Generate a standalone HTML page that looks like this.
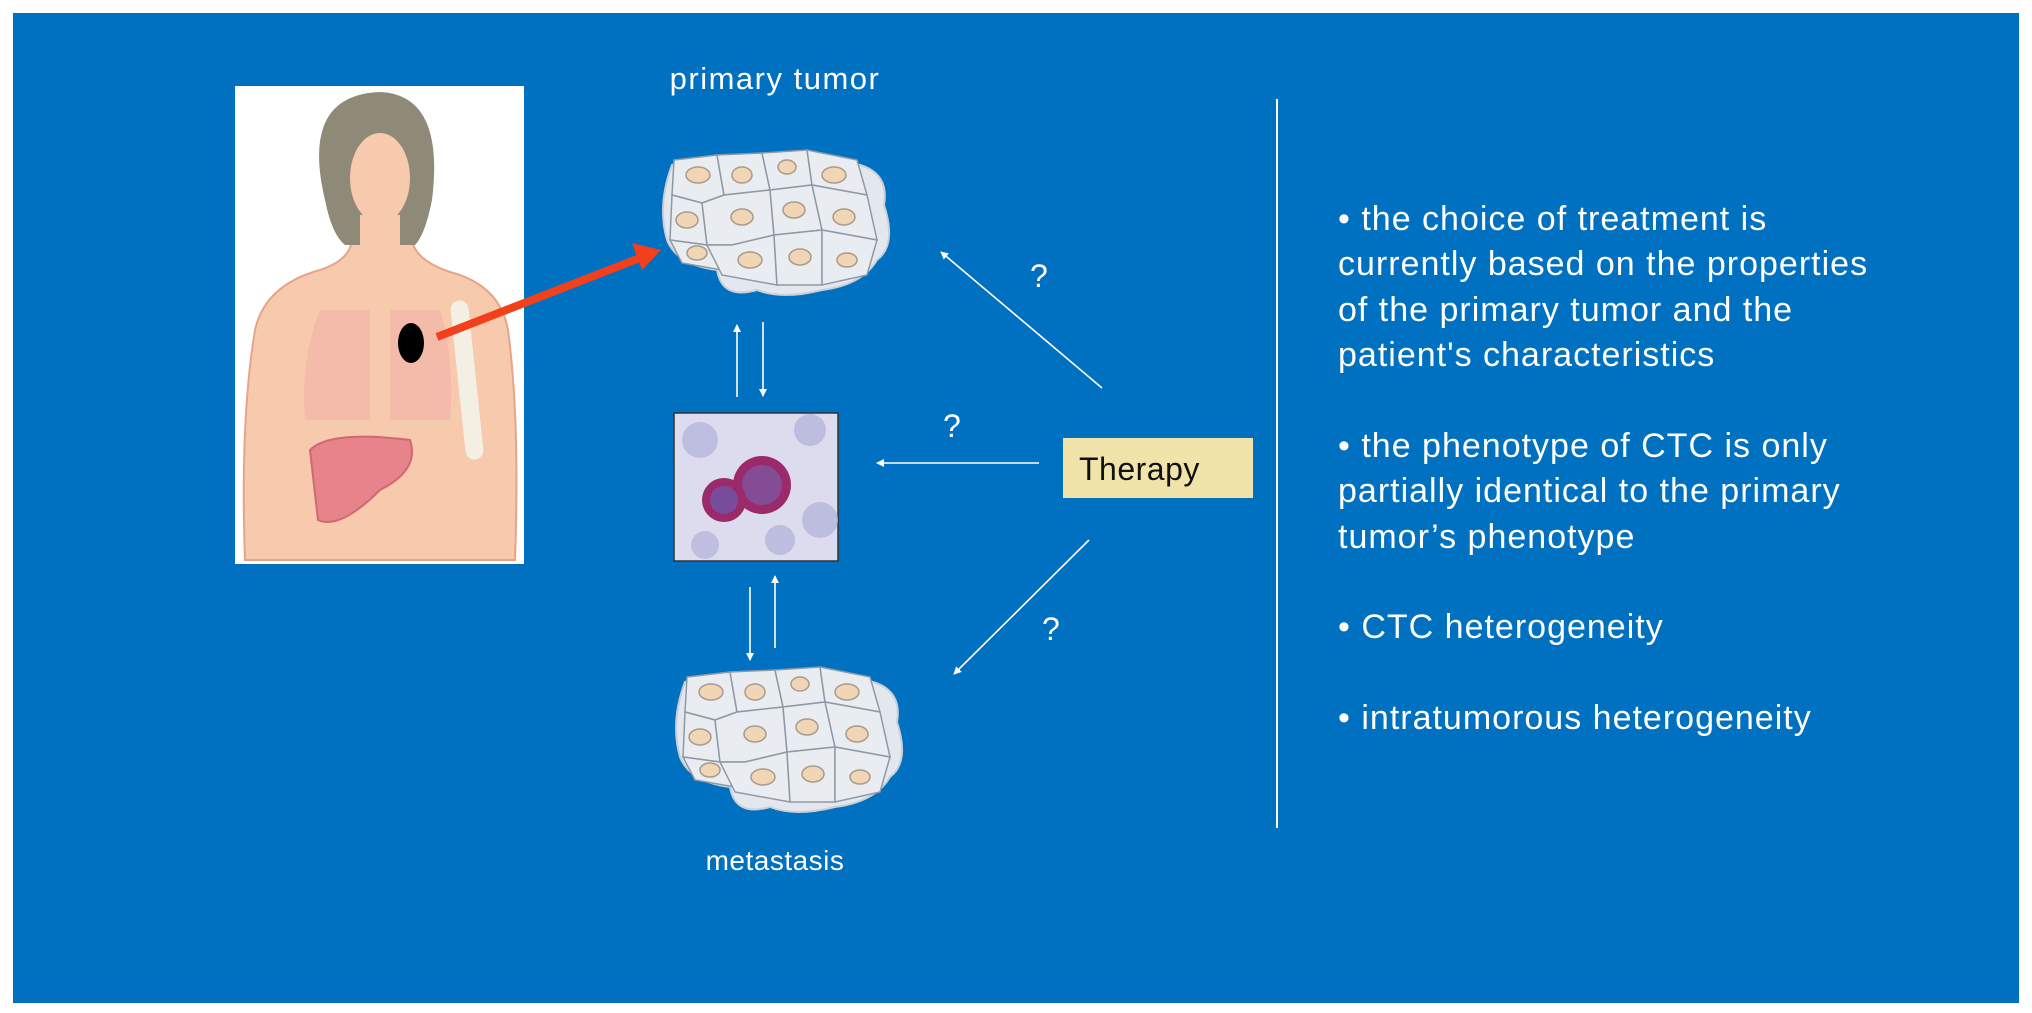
<!DOCTYPE html>
<html><head><meta charset="utf-8"><style>
body{margin:0;background:#fff;width:2032px;height:1013px;overflow:hidden;font-family:"Liberation Sans",sans-serif}
svg{position:absolute;left:0;top:0}
</style></head><body>
<svg width="2032" height="1013" viewBox="0 0 2032 1013" xmlns="http://www.w3.org/2000/svg">
<defs>
<g id="cl">
 <path d="M10,20 Q60,5 100,12 Q140,0 190,18 Q228,25 222,60 Q235,100 215,115 Q200,140 160,145 Q120,155 95,145 Q60,155 55,125 Q15,120 5,95 Q-5,60 10,20Z" fill="#e4e8ee" stroke="#c8cfd8" stroke-width="2"/>
 <g fill="#e9ecf1" stroke="#8f99a6" stroke-width="1.5">
  <path d="M12,15 L55,10 L62,50 L40,58 L10,50Z"/>
  <path d="M55,10 L100,8 L108,45 L62,50Z"/>
  <path d="M100,8 L145,5 L150,40 L108,45Z"/>
  <path d="M145,5 L195,15 L205,50 L150,40Z"/>
  <path d="M10,50 L40,58 L45,100 L8,95Z"/>
  <path d="M40,58 L62,50 L108,45 L112,90 L70,100 L45,100Z"/>
  <path d="M108,45 L150,40 L160,85 L112,90Z"/>
  <path d="M150,40 L205,50 L215,95 L160,85Z"/>
  <path d="M8,95 L45,100 L60,125 L20,118Z"/>
  <path d="M45,100 L70,100 L112,90 L115,140 L60,130Z"/>
  <path d="M112,90 L160,85 L160,140 L115,140Z"/>
  <path d="M160,85 L215,95 L205,130 L160,140Z"/>
 </g>
 <g fill="#f0d6b4" stroke="#a99a8c" stroke-width="1.5">
  <ellipse cx="36" cy="30" rx="12" ry="8"/><ellipse cx="80" cy="30" rx="10" ry="8"/>
  <ellipse cx="125" cy="22" rx="9" ry="7"/><ellipse cx="172" cy="30" rx="12" ry="8"/>
  <ellipse cx="25" cy="75" rx="11" ry="8"/><ellipse cx="80" cy="72" rx="11" ry="8"/>
  <ellipse cx="132" cy="65" rx="11" ry="8"/><ellipse cx="182" cy="72" rx="11" ry="8"/>
  <ellipse cx="35" cy="108" rx="10" ry="7"/><ellipse cx="88" cy="115" rx="12" ry="8"/>
  <ellipse cx="138" cy="112" rx="11" ry="8"/><ellipse cx="185" cy="115" rx="10" ry="7"/>
 </g>
</g>
<marker id="ah" markerWidth="8" markerHeight="8" refX="7" refY="4" orient="auto" markerUnits="userSpaceOnUse"><path d="M0,0 L8,4 L0,8Z" fill="#fff"/></marker>
</defs>
<rect x="13" y="13" width="2006" height="990" fill="#0070c0"/>
<!-- woman -->
<rect x="235" y="86" width="289" height="478" fill="#fff"/>
<path d="M245,560 Q240,420 255,330 Q265,285 320,270 Q350,260 352,240 L412,240 Q415,260 450,272 Q500,285 508,330 Q520,420 515,560Z" fill="#f7c9ad" stroke="#e5a58a" stroke-width="2"/>
<path d="M325,200 Q300,95 380,92 Q445,95 432,200 Q425,235 415,245 L345,245 Q332,235 325,200Z" fill="#8f8a78"/>
<ellipse cx="380" cy="178" rx="30" ry="45" fill="#f7c9ad"/>
<rect x="360" y="215" width="40" height="40" fill="#f7c9ad"/>
<path d="M320,310 Q300,360 305,420 L370,420 L370,310Z" fill="#f2b5a8" opacity="0.7"/>
<path d="M390,310 L390,420 L450,420 Q455,360 440,310Z" fill="#f2b5a8" opacity="0.7"/>
<path d="M310,450 Q330,430 410,440 Q420,470 380,490 Q340,530 318,520Z" fill="#e7838a" stroke="#d06a72" stroke-width="2"/>
<rect x="458" y="300" width="18" height="160" rx="9" fill="#f3efe2" transform="rotate(-6 467 380)"/>
<ellipse cx="411" cy="343" rx="13" ry="20" fill="#000"/>
<line x1="437" y1="337" x2="645" y2="256" stroke="#f2401c" stroke-width="8"/>
<path d="M661,250 L632,243 L642,270Z" fill="#f2401c"/>
<!-- texts -->
<text x="775" y="89" fill="#fff" font-size="31" letter-spacing="1.5" text-anchor="middle">primary tumor</text>
<text x="775" y="870" fill="#fff" font-size="28" letter-spacing="0.5" text-anchor="middle">metastasis</text>
<use href="#cl" transform="translate(662,145)"/>
<use href="#cl" transform="translate(675,662)"/>
<!-- CTC image -->
<rect x="674" y="413" width="164" height="148" fill="#dcdcee" stroke="#333" stroke-width="1.5"/>
<g fill="#b5b6dc" opacity="0.8"><circle cx="700" cy="440" r="18"/><circle cx="810" cy="430" r="16"/><circle cx="820" cy="520" r="18"/><circle cx="705" cy="545" r="14"/><circle cx="780" cy="540" r="15"/></g>
<circle cx="762" cy="485" r="29" fill="#9b2a6a"/><circle cx="762" cy="485" r="20" fill="#7b5ba8" opacity="0.7"/>
<circle cx="724" cy="500" r="22" fill="#9b2a6a"/><circle cx="724" cy="500" r="14" fill="#6b5ab0" opacity="0.7"/>
<!-- arrows -->
<g stroke="#fff" stroke-width="1.6" marker-end="url(#ah)">
<line x1="737" y1="397" x2="737" y2="325"/><line x1="763" y1="322" x2="763" y2="396"/>
<line x1="750" y1="587" x2="750" y2="660"/><line x1="775" y1="648" x2="775" y2="576"/>
<line x1="1102" y1="388" x2="941" y2="252"/><line x1="1039" y1="463" x2="877" y2="463"/><line x1="1089" y1="540" x2="954" y2="674"/>
</g>
<g fill="#fff" font-size="32"><text x="1030" y="287">?</text><text x="943" y="437">?</text><text x="1042" y="640">?</text></g>
<rect x="1063" y="438" width="190" height="60" fill="#f0e4ab"/>
<text x="1079" y="480" font-size="32" letter-spacing="0.5" fill="#111">Therapy</text>
<line x1="1277" y1="99" x2="1277" y2="828" stroke="#fff" stroke-width="2"/>
<g fill="#fff" font-size="34" letter-spacing="1">
<text x="1338" y="230">• the choice of treatment is</text>
<text x="1338" y="275">currently based on the properties</text>
<text x="1338" y="321">of the primary tumor and the</text>
<text x="1338" y="366">patient's characteristics</text>
<text x="1338" y="457">• the phenotype of CTC is only</text>
<text x="1338" y="502">partially identical to the primary</text>
<text x="1338" y="548">tumor’s phenotype</text>
<text x="1338" y="638">• CTC heterogeneity</text>
<text x="1338" y="729">• intratumorous heterogeneity</text>
</g>
</svg>
</body></html>
